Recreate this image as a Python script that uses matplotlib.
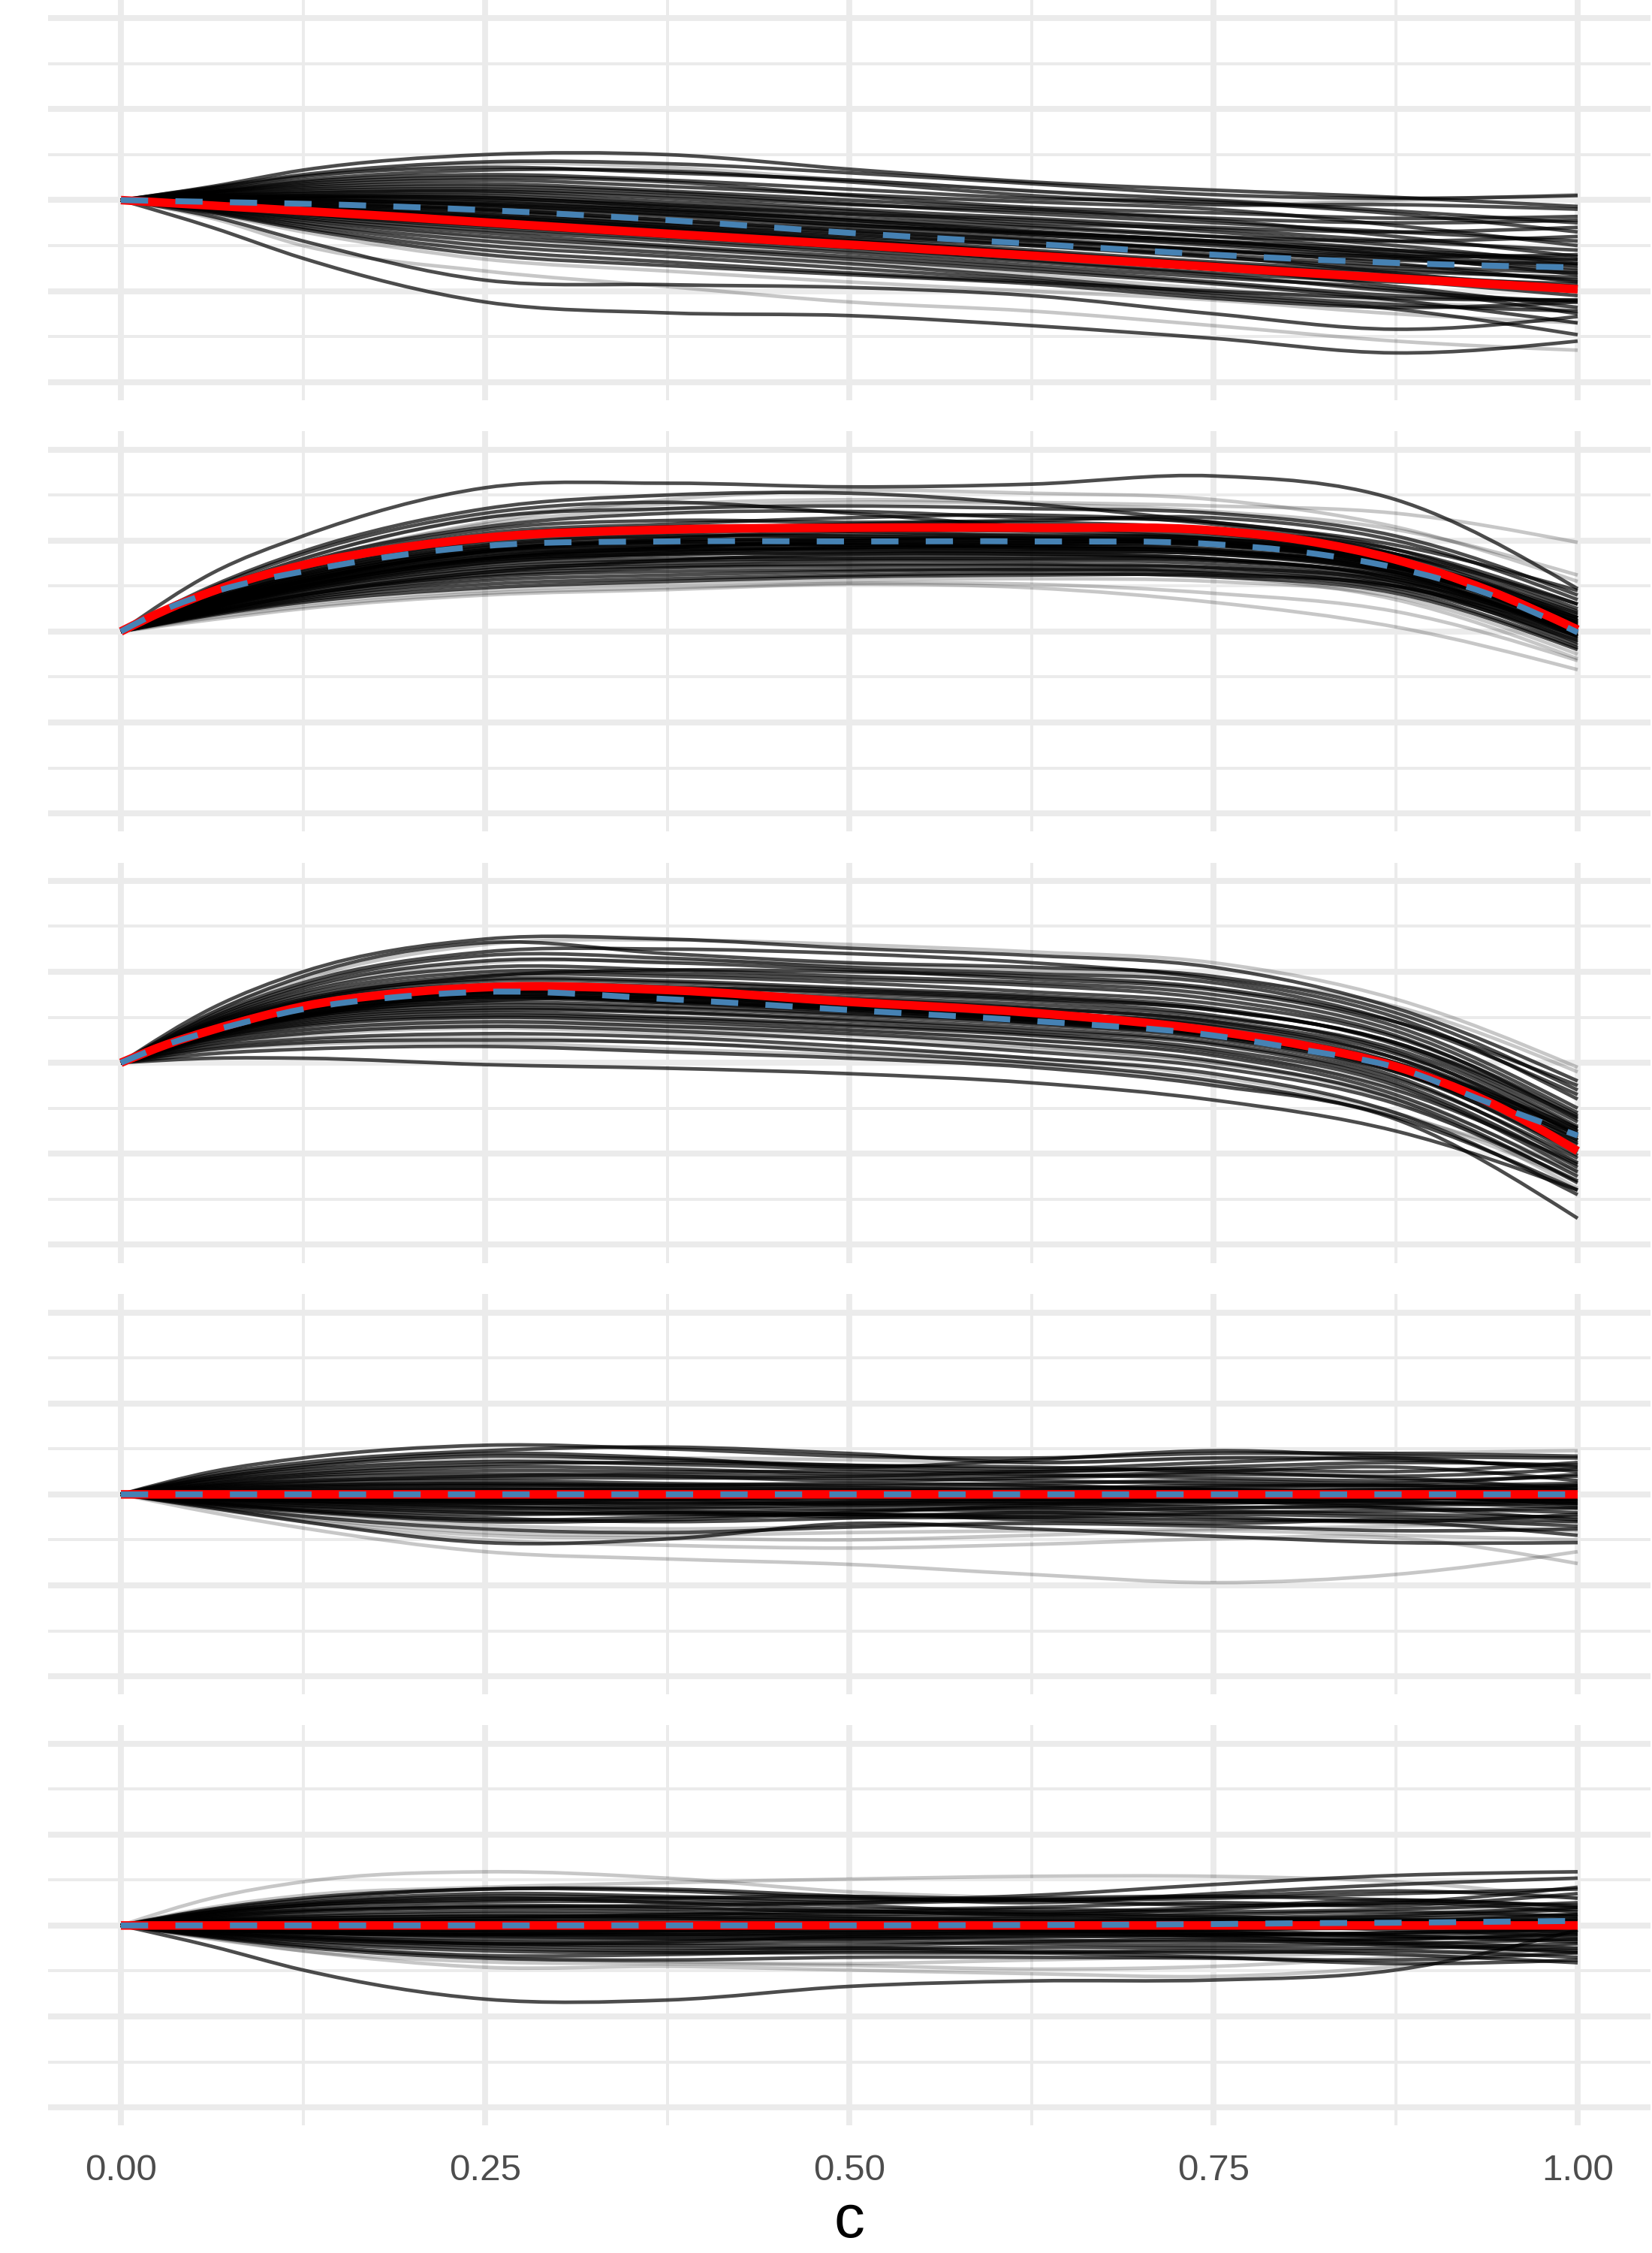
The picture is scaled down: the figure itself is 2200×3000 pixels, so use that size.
import matplotlib
matplotlib.use("Agg")
import matplotlib.pyplot as plt
from matplotlib.ticker import FixedLocator, NullFormatter
from matplotlib.path import Path
from matplotlib.patches import PathPatch

plt.rcParams['font.family'] = ['Liberation Sans', 'DejaVu Sans']

# ---------------------------------------------------------------- data
# x positions at which every simulated curve was read off the picture
X_GRID = [0.0, 0.0625, 0.125, 0.25, 0.375, 0.5, 0.625, 0.75, 0.875, 1.0]
# every curve starts at the same value at c = 0
START_VALUE = 0.0
# x positions at which the two summary curves (red, blue) were read
X_SUMMARY = [0.0, 0.03125, 0.0625, 0.09375, 0.125, 0.1875, 0.25, 0.375, 0.5,
             0.625, 0.75, 0.8125, 0.875, 0.9375, 1.0]

X_TICKS = [0.0, 0.25, 0.5, 0.75, 1.0]
X_TICK_LABELS = ["0.00", "0.25", "0.50", "0.75", "1.00"]
X_LABEL = "c"

# ---- panel 1
P1_DRAWS = [
    [0.15, 0.33, 0.50, 0.50, 0.34, 0.20, 0.11, 0.03, -0.07],
    [0.14, 0.28, 0.42, 0.40, 0.30, 0.18, 0.06, 0.02, 0.05],
    [0.12, 0.25, 0.40, 0.36, 0.22, 0.10, -0.05, 0.00, 0.06],
    [0.13, 0.26, 0.36, 0.30, 0.22, 0.10, 0.00, -0.12, -0.25],
    [0.11, 0.22, 0.33, 0.32, 0.20, 0.05, -0.05, -0.05, -0.10],
    [0.10, 0.20, 0.28, 0.22, 0.12, 0.02, -0.02, -0.15, -0.35],
    [0.09, 0.18, 0.25, 0.20, 0.05, -0.08, -0.14, -0.20, -0.18],
    [0.09, 0.16, 0.22, 0.15, 0.06, -0.02, -0.10, -0.28, -0.50],
    [0.08, 0.14, 0.18, 0.10, 0.00, -0.10, -0.20, -0.25, -0.22],
    [0.07, 0.12, 0.15, 0.08, -0.04, -0.15, -0.25, -0.35, -0.45],
    [0.06, 0.10, 0.12, 0.05, -0.05, -0.12, -0.22, -0.40, -0.62],
    [0.05, 0.08, 0.10, 0.02, -0.10, -0.20, -0.30, -0.35, -0.30],
    [0.05, 0.07, 0.08, -0.02, -0.12, -0.25, -0.32, -0.45, -0.55],
    [0.04, 0.05, 0.05, -0.05, -0.15, -0.22, -0.35, -0.50, -0.70],
    [0.03, 0.04, 0.03, -0.08, -0.20, -0.30, -0.40, -0.45, -0.40],
    [0.03, 0.03, 0.00, -0.10, -0.22, -0.35, -0.45, -0.55, -0.65],
    [0.02, 0.02, -0.02, -0.12, -0.25, -0.38, -0.48, -0.62, -0.82],
    [0.01, 0.00, -0.05, -0.15, -0.28, -0.36, -0.45, -0.60, -0.75],
    [0.00, -0.02, -0.08, -0.18, -0.30, -0.42, -0.55, -0.62, -0.60],
    [0.00, -0.03, -0.10, -0.22, -0.34, -0.45, -0.55, -0.70, -0.90],
    [-0.01, -0.05, -0.12, -0.25, -0.36, -0.48, -0.60, -0.72, -0.80],
    [-0.02, -0.06, -0.15, -0.28, -0.40, -0.50, -0.62, -0.80, -1.00],
    [-0.03, -0.08, -0.18, -0.30, -0.42, -0.55, -0.68, -0.78, -0.85],
    [-0.04, -0.10, -0.20, -0.32, -0.45, -0.58, -0.72, -0.88, -1.05],
    [-0.05, -0.12, -0.22, -0.35, -0.48, -0.60, -0.74, -0.85, -0.92],
    [-0.05, -0.13, -0.25, -0.38, -0.50, -0.62, -0.75, -0.95, -1.18],
    [-0.06, -0.15, -0.28, -0.40, -0.52, -0.66, -0.80, -0.90, -0.95],
    [-0.07, -0.16, -0.30, -0.42, -0.55, -0.68, -0.82, -1.00, -1.12],
    [-0.08, -0.18, -0.33, -0.45, -0.58, -0.72, -0.85, -0.98, -1.25],
    [-0.09, -0.20, -0.36, -0.50, -0.62, -0.75, -0.90, -1.05, -1.10],
    [-0.10, -0.22, -0.40, -0.52, -0.65, -0.78, -0.92, -1.10, -1.35],
    [-0.10, -0.22, -0.42, -0.55, -0.68, -0.82, -0.98, -1.12, -1.20],
    [-0.11, -0.25, -0.45, -0.58, -0.70, -0.85, -1.02, -1.15, -1.22],
    [-0.12, -0.27, -0.50, -0.62, -0.75, -0.88, -1.05, -1.20, -1.48],
    [-0.13, -0.30, -0.55, -0.68, -0.80, -0.90, -1.00, -1.08, -1.10],
    [-0.14, -0.32, -0.60, -0.72, -0.82, -0.92, -1.08, -1.18, -1.12],
    [-0.18, -0.45, -0.88, -0.93, -0.96, -1.05, -1.25, -1.42, -1.28],
    [-0.20, -0.50, -0.78, -0.95, -1.12, -1.22, -1.38, -1.55, -1.65],
    [-0.30, -0.64, -1.12, -1.24, -1.27, -1.38, -1.52, -1.68, -1.55],
    [-0.15, -0.35, -0.65, -0.78, -0.90, -1.00, -1.10, -1.25, -1.35],
    [0.02, 0.01, -0.06, -0.16, -0.27, -0.38, -0.50, -0.64, -0.78],
    [-0.01, -0.04, -0.11, -0.22, -0.33, -0.44, -0.56, -0.66, -0.70],
    [0.03, 0.04, 0.02, -0.06, -0.16, -0.28, -0.40, -0.55, -0.72],
    [-0.03, -0.07, -0.16, -0.27, -0.38, -0.50, -0.63, -0.75, -0.88],
    [0.01, -0.01, -0.04, -0.12, -0.22, -0.34, -0.46, -0.58, -0.66],
    [-0.04, -0.09, -0.19, -0.31, -0.44, -0.57, -0.70, -0.82, -0.95],
]
P1_FAINT = [2, 31, 37, 39]
P1_RED = [0.0, -0.03, -0.06, -0.09, -0.12, -0.18, -0.245, -0.37, -0.49,
          -0.61, -0.735, -0.80, -0.86, -0.92, -0.98]
P1_BLUE = [0.0, -0.01, -0.02, -0.03, -0.04, -0.07, -0.11, -0.22, -0.36,
           -0.48, -0.60, -0.65, -0.69, -0.72, -0.74]

# ---- panel 2
P2_DRAWS = [
    [0.64, 1.05, 1.58, 1.63, 1.59, 1.62, 1.71, 1.45, 0.47],
    [0.45, 0.80, 1.25, 1.40, 1.45, 1.42, 1.38, 1.30, 0.98],
    [0.50, 0.88, 1.35, 1.50, 1.52, 1.40, 1.20, 0.95, 0.45],
    [0.48, 0.85, 1.30, 1.42, 1.30, 1.15, 1.05, 0.85, 0.30],
    [0.42, 0.75, 1.20, 1.45, 1.55, 1.52, 1.45, 1.15, 0.55],
    [0.45, 0.80, 1.25, 1.35, 1.38, 1.35, 1.30, 1.05, 0.40],
    [0.42, 0.76, 1.15, 1.30, 1.32, 1.25, 1.20, 0.90, 0.25],
    [0.40, 0.72, 1.12, 1.22, 1.20, 1.22, 1.25, 1.00, 0.35],
    [0.40, 0.70, 1.08, 1.18, 1.25, 1.28, 1.18, 0.85, 0.15],
    [0.38, 0.68, 1.05, 1.15, 1.15, 1.12, 1.10, 0.90, 0.30],
    [0.37, 0.66, 1.02, 1.12, 1.10, 1.05, 1.02, 0.80, 0.10],
    [0.36, 0.63, 0.98, 1.08, 1.12, 1.15, 1.08, 0.78, 0.05],
    [0.35, 0.62, 0.95, 1.05, 1.05, 1.02, 0.98, 0.75, 0.12],
    [0.34, 0.60, 0.92, 1.00, 1.02, 1.00, 0.95, 0.70, 0.00],
    [0.33, 0.58, 0.90, 0.98, 0.98, 0.98, 0.98, 0.78, 0.20],
    [0.32, 0.56, 0.88, 0.96, 0.95, 0.92, 0.88, 0.65, -0.05],
    [0.31, 0.55, 0.85, 0.93, 0.96, 0.95, 0.90, 0.68, 0.08],
    [0.30, 0.53, 0.82, 0.90, 0.90, 0.88, 0.85, 0.62, -0.02],
    [0.29, 0.52, 0.80, 0.88, 0.92, 0.92, 0.88, 0.70, 0.15],
    [0.28, 0.50, 0.78, 0.85, 0.86, 0.85, 0.80, 0.58, -0.08],
    [0.27, 0.48, 0.76, 0.84, 0.88, 0.88, 0.85, 0.65, 0.10],
    [0.26, 0.46, 0.73, 0.80, 0.82, 0.82, 0.78, 0.55, -0.12],
    [0.25, 0.45, 0.70, 0.78, 0.80, 0.80, 0.78, 0.60, 0.05],
    [0.24, 0.43, 0.68, 0.75, 0.78, 0.78, 0.74, 0.52, -0.15],
    [0.23, 0.41, 0.65, 0.72, 0.74, 0.74, 0.70, 0.50, -0.05],
    [0.22, 0.40, 0.62, 0.70, 0.72, 0.72, 0.70, 0.55, 0.02],
    [0.21, 0.38, 0.60, 0.66, 0.68, 0.68, 0.64, 0.45, -0.18],
    [0.20, 0.36, 0.56, 0.62, 0.66, 0.68, 0.66, 0.48, -0.10],
    [0.19, 0.34, 0.52, 0.58, 0.62, 0.64, 0.60, 0.42, -0.20],
    [0.18, 0.32, 0.48, 0.55, 0.60, 0.62, 0.62, 0.50, 0.00],
    [0.17, 0.30, 0.45, 0.52, 0.56, 0.58, 0.55, 0.38, -0.25],
    [0.15, 0.27, 0.42, 0.48, 0.53, 0.52, 0.42, 0.22, -0.32],
    [0.13, 0.25, 0.40, 0.46, 0.52, 0.48, 0.32, 0.05, -0.42],
    [0.35, 0.64, 1.00, 1.12, 1.18, 1.20, 1.12, 0.85, 0.22],
    [0.30, 0.55, 0.88, 1.02, 1.10, 1.10, 1.02, 0.78, 0.18],
    [0.26, 0.47, 0.75, 0.86, 0.92, 0.95, 0.95, 0.72, 0.12],
    [0.40, 0.74, 1.18, 1.35, 1.42, 1.40, 1.32, 1.12, 0.62],
    [0.22, 0.40, 0.65, 0.78, 0.85, 0.85, 0.80, 0.58, -0.02],
    [0.20, 0.36, 0.58, 0.70, 0.78, 0.75, 0.62, 0.35, -0.30],
    [0.28, 0.50, 0.80, 0.92, 1.00, 1.02, 0.98, 0.75, 0.15],
    [0.30, 0.54, 0.86, 0.94, 0.97, 0.97, 0.94, 0.70, 0.02],
    [0.33, 0.58, 0.90, 1.00, 1.02, 1.03, 0.99, 0.74, 0.06],
    [0.28, 0.51, 0.82, 0.92, 0.95, 0.94, 0.90, 0.66, -0.04],
    [0.31, 0.56, 0.88, 0.98, 1.00, 0.99, 0.96, 0.72, 0.00],
    [0.27, 0.49, 0.79, 0.89, 0.92, 0.91, 0.87, 0.63, -0.06],
    [0.34, 0.60, 0.94, 1.04, 1.06, 1.06, 1.02, 0.77, 0.08],
]
P2_FAINT = [1, 4, 30, 31, 32, 36, 38]
P2_RED = [0.0, 0.24, 0.44, 0.60, 0.73, 0.91, 1.03, 1.12, 1.14,
          1.14, 1.11, 1.00, 0.79, 0.46, 0.02]
P2_BLUE = [0.0, 0.25, 0.43, 0.56, 0.66, 0.83, 0.94, 0.99, 0.99,
           0.99, 0.96, 0.87, 0.70, 0.42, -0.01]

# ---- panel 3
P3_DRAWS = [
    [0.60, 1.00, 1.36, 1.36, 1.26, 1.18, 1.05, 0.60, -0.20],
    [0.55, 0.92, 1.30, 1.35, 1.30, 1.22, 1.10, 0.70, -0.05],
    [0.55, 0.95, 1.32, 1.20, 1.10, 1.05, 0.95, 0.55, -0.30],
    [0.52, 0.88, 1.22, 1.25, 1.20, 1.10, 0.92, 0.50, -0.40],
    [0.50, 0.85, 1.18, 1.15, 1.05, 0.98, 0.88, 0.45, -0.35],
    [0.48, 0.82, 1.12, 1.10, 1.02, 0.92, 0.80, 0.40, -0.50],
    [0.48, 0.80, 1.10, 1.12, 1.08, 1.02, 0.92, 0.62, -0.10],
    [0.46, 0.78, 1.05, 1.02, 0.95, 0.88, 0.75, 0.35, -0.55],
    [0.45, 0.75, 1.00, 0.98, 0.92, 0.85, 0.70, 0.30, -0.62],
    [0.44, 0.72, 0.96, 0.95, 0.88, 0.78, 0.65, 0.28, -0.58],
    [0.43, 0.70, 0.92, 0.90, 0.82, 0.74, 0.60, 0.20, -0.70],
    [0.42, 0.68, 0.90, 0.88, 0.80, 0.72, 0.58, 0.22, -0.65],
    [0.40, 0.66, 0.86, 0.84, 0.76, 0.68, 0.52, 0.12, -0.80],
    [0.39, 0.64, 0.84, 0.80, 0.72, 0.64, 0.50, 0.15, -0.72],
    [0.38, 0.62, 0.80, 0.76, 0.70, 0.60, 0.45, 0.05, -0.85],
    [0.37, 0.60, 0.78, 0.75, 0.66, 0.56, 0.40, 0.00, -0.90],
    [0.36, 0.58, 0.75, 0.72, 0.64, 0.55, 0.42, 0.05, -0.78],
    [0.35, 0.56, 0.72, 0.68, 0.60, 0.50, 0.35, -0.05, -0.95],
    [0.34, 0.54, 0.70, 0.66, 0.58, 0.48, 0.32, -0.08, -1.02],
    [0.33, 0.52, 0.66, 0.62, 0.54, 0.45, 0.30, -0.10, -0.98],
    [0.32, 0.50, 0.63, 0.60, 0.52, 0.42, 0.26, -0.15, -1.10],
    [0.30, 0.48, 0.60, 0.56, 0.48, 0.38, 0.22, -0.18, -1.05],
    [0.29, 0.46, 0.58, 0.55, 0.46, 0.35, 0.20, -0.22, -1.15],
    [0.28, 0.44, 0.55, 0.50, 0.42, 0.32, 0.15, -0.25, -1.20],
    [0.27, 0.42, 0.52, 0.48, 0.40, 0.30, 0.12, -0.30, -1.12],
    [0.26, 0.40, 0.50, 0.45, 0.36, 0.25, 0.08, -0.35, -1.25],
    [0.25, 0.38, 0.48, 0.42, 0.35, 0.25, 0.10, -0.28, -1.10],
    [0.24, 0.36, 0.45, 0.40, 0.32, 0.20, 0.02, -0.40, -1.32],
    [0.22, 0.34, 0.42, 0.38, 0.30, 0.18, 0.00, -0.38, -1.22],
    [0.21, 0.32, 0.40, 0.35, 0.25, 0.12, -0.05, -0.45, -1.30],
    [0.20, 0.30, 0.38, 0.32, 0.25, 0.15, 0.00, -0.42, -1.38],
    [0.18, 0.26, 0.32, 0.28, 0.18, 0.05, -0.12, -0.55, -1.45],
    [0.16, 0.24, 0.28, 0.22, 0.15, 0.05, -0.15, -0.55, -1.30],
    [0.15, 0.22, 0.25, 0.22, 0.12, 0.00, -0.20, -0.60, -1.40],
    [0.14, 0.20, 0.22, 0.15, 0.08, -0.02, -0.22, -0.58, -1.18],
    [0.10, 0.15, 0.18, 0.12, 0.05, -0.05, -0.25, -0.62, -1.71],
    [0.05, 0.05, -0.02, -0.06, -0.12, -0.22, -0.41, -0.75, -1.40],
    [0.40, 0.68, 0.95, 1.02, 1.00, 0.95, 0.82, 0.45, -0.25],
    [0.35, 0.58, 0.78, 0.82, 0.78, 0.70, 0.58, 0.22, -0.60],
    [0.30, 0.50, 0.68, 0.72, 0.68, 0.60, 0.46, 0.10, -0.75],
    [0.33, 0.53, 0.76, 0.70, 0.60, 0.48, 0.32, -0.05, -0.82],
    [0.35, 0.57, 0.80, 0.74, 0.62, 0.50, 0.34, -0.02, -0.76],
    [0.31, 0.51, 0.72, 0.66, 0.56, 0.44, 0.28, -0.10, -0.88],
    [0.36, 0.59, 0.83, 0.78, 0.66, 0.52, 0.36, 0.00, -0.72],
    [0.32, 0.52, 0.74, 0.68, 0.58, 0.46, 0.30, -0.07, -0.85],
    [0.34, 0.55, 0.78, 0.72, 0.61, 0.47, 0.31, -0.04, -0.79],
]
P3_FAINT = [1, 6, 26, 28, 30, 32, 34]
P3_RED = [0.0, 0.20, 0.36, 0.50, 0.62, 0.76, 0.83, 0.80, 0.67,
          0.55, 0.35, 0.19, -0.04, -0.42, -0.97]
P3_BLUE = [0.0, 0.20, 0.35, 0.48, 0.59, 0.72, 0.78, 0.70, 0.58,
           0.46, 0.30, 0.14, -0.05, -0.43, -0.80]

# ---- panel 4
P4_DRAWS = [
    [0.25, 0.40, 0.54, 0.50, 0.42, 0.40, 0.45, 0.45, 0.42],
    [0.22, 0.35, 0.48, 0.52, 0.45, 0.35, 0.40, 0.38, 0.30],
    [0.20, 0.32, 0.45, 0.40, 0.30, 0.38, 0.48, 0.42, 0.40],
    [0.18, 0.28, 0.38, 0.40, 0.38, 0.35, 0.40, 0.45, 0.48],
    [0.17, 0.27, 0.36, 0.33, 0.28, 0.25, 0.30, 0.35, 0.32],
    [0.15, 0.24, 0.33, 0.35, 0.32, 0.30, 0.25, 0.20, 0.28],
    [0.14, 0.22, 0.30, 0.28, 0.22, 0.20, 0.25, 0.30, 0.15],
    [0.12, 0.20, 0.26, 0.25, 0.25, 0.22, 0.18, 0.15, 0.20],
    [0.11, 0.18, 0.22, 0.20, 0.15, 0.18, 0.22, 0.18, 0.05],
    [0.10, 0.15, 0.18, 0.18, 0.18, 0.15, 0.12, 0.10, 0.12],
    [0.08, 0.12, 0.15, 0.12, 0.10, 0.12, 0.15, 0.12, 0.22],
    [0.07, 0.10, 0.12, 0.10, 0.08, 0.05, 0.08, 0.10, 0.02],
    [0.05, 0.08, 0.10, 0.10, 0.12, 0.10, 0.05, 0.00, -0.05],
    [0.04, 0.06, 0.07, 0.05, 0.04, 0.06, 0.10, 0.08, 0.10],
    [0.03, 0.04, 0.05, 0.06, 0.05, 0.02, 0.00, 0.04, 0.08],
    [0.02, 0.02, 0.02, 0.00, -0.02, 0.00, 0.04, 0.02, -0.08],
    [0.01, 0.01, 0.00, 0.02, 0.03, 0.00, -0.05, -0.05, 0.00],
    [0.00, -0.01, -0.02, -0.04, -0.03, -0.02, 0.00, 0.02, 0.05],
    [-0.01, -0.02, -0.04, -0.05, -0.06, -0.08, -0.05, -0.02, -0.12],
    [-0.02, -0.04, -0.06, -0.05, -0.04, -0.06, -0.08, -0.10, -0.05],
    [-0.03, -0.05, -0.08, -0.10, -0.10, -0.06, -0.04, -0.08, -0.15],
    [-0.04, -0.07, -0.10, -0.08, -0.12, -0.14, -0.10, -0.06, -0.02],
    [-0.05, -0.08, -0.12, -0.14, -0.12, -0.10, -0.14, -0.15, -0.20],
    [-0.06, -0.10, -0.15, -0.15, -0.16, -0.18, -0.15, -0.12, -0.10],
    [-0.07, -0.12, -0.18, -0.20, -0.18, -0.15, -0.18, -0.22, -0.25],
    [-0.08, -0.13, -0.20, -0.22, -0.22, -0.22, -0.20, -0.18, -0.15],
    [-0.09, -0.15, -0.22, -0.20, -0.25, -0.25, -0.22, -0.25, -0.30],
    [-0.10, -0.17, -0.26, -0.30, -0.26, -0.20, -0.25, -0.30, -0.22],
    [-0.11, -0.19, -0.30, -0.28, -0.22, -0.28, -0.32, -0.28, -0.35],
    [-0.12, -0.22, -0.34, -0.38, -0.35, -0.30, -0.28, -0.32, -0.40],
    [-0.13, -0.24, -0.38, -0.42, -0.36, -0.32, -0.35, -0.40, -0.38],
    [-0.14, -0.26, -0.42, -0.45, -0.42, -0.40, -0.38, -0.35, -0.30],
    [-0.15, -0.30, -0.53, -0.49, -0.32, -0.38, -0.46, -0.53, -0.53],
    [-0.16, -0.30, -0.50, -0.56, -0.59, -0.55, -0.49, -0.48, -0.76],
    [-0.20, -0.37, -0.63, -0.71, -0.77, -0.88, -0.97, -0.88, -0.63],
    [-0.15, -0.28, -0.45, -0.48, -0.50, -0.45, -0.40, -0.45, -0.50],
    [0.18, 0.30, 0.42, 0.38, 0.32, 0.28, 0.35, 0.40, 0.25],
    [-0.10, -0.18, -0.28, -0.25, -0.20, -0.12, -0.08, -0.15, -0.28],
    [0.09, 0.14, 0.20, 0.22, 0.20, 0.25, 0.28, 0.25, 0.35],
    [-0.05, -0.09, -0.14, -0.18, -0.22, -0.25, -0.28, -0.30, -0.45],
    [0.03, 0.05, 0.06, 0.04, 0.02, 0.03, 0.05, 0.03, 0.04],
    [-0.02, -0.03, -0.05, -0.03, -0.01, -0.03, -0.02, -0.04, -0.06],
    [0.06, 0.09, 0.11, 0.08, 0.06, 0.08, 0.06, 0.05, 0.09],
    [-0.05, -0.07, -0.09, -0.11, -0.08, -0.05, -0.07, -0.09, -0.08],
    [0.01, 0.02, 0.03, 0.01, 0.00, -0.02, 0.02, 0.05, 0.02],
    [-0.03, -0.05, -0.07, -0.06, -0.09, -0.10, -0.06, -0.03, -0.10],
]
P4_FAINT = [3, 29, 31, 33, 34, 35]
P4_RED = [0.0, 0.0, 0.0, 0.0, 0.0, 0.0, 0.0, 0.0, 0.0,
          0.0, 0.0, 0.0, 0.0, 0.0, 0.0]
P4_BLUE = [0.0, 0.0, 0.0, 0.0, 0.0, 0.0, 0.0, 0.0, 0.0,
           0.0, 0.0, 0.0, 0.0, 0.0, 0.0]

# ---- panel 5
P5_DRAWS = [
    [0.30, 0.48, 0.59, 0.52, 0.37, 0.30, 0.25, 0.20, 0.15],
    [0.20, 0.33, 0.42, 0.47, 0.51, 0.54, 0.54, 0.48, 0.30],
    [0.15, 0.25, 0.35, 0.32, 0.28, 0.33, 0.45, 0.55, 0.59],
    [0.18, 0.30, 0.40, 0.40, 0.32, 0.25, 0.35, 0.45, 0.52],
    [0.17, 0.28, 0.40, 0.38, 0.30, 0.28, 0.30, 0.35, 0.40],
    [0.15, 0.24, 0.32, 0.30, 0.25, 0.28, 0.32, 0.38, 0.30],
    [0.13, 0.22, 0.30, 0.25, 0.18, 0.20, 0.25, 0.22, 0.35],
    [0.12, 0.20, 0.26, 0.26, 0.22, 0.15, 0.20, 0.28, 0.20],
    [0.11, 0.17, 0.22, 0.20, 0.15, 0.18, 0.15, 0.18, 0.25],
    [0.09, 0.15, 0.20, 0.18, 0.16, 0.12, 0.18, 0.25, 0.15],
    [0.08, 0.12, 0.16, 0.15, 0.10, 0.10, 0.12, 0.15, 0.10],
    [0.07, 0.10, 0.13, 0.12, 0.12, 0.14, 0.10, 0.05, 0.12],
    [0.06, 0.08, 0.10, 0.08, 0.05, 0.06, 0.08, 0.12, 0.20],
    [0.05, 0.06, 0.07, 0.08, 0.08, 0.05, 0.02, 0.05, 0.05],
    [0.04, 0.05, 0.05, 0.03, 0.02, 0.04, 0.06, 0.02, -0.02],
    [0.02, 0.03, 0.02, 0.02, 0.04, 0.02, -0.02, 0.00, 0.08],
    [0.01, 0.01, 0.00, -0.02, -0.02, 0.00, 0.03, 0.06, 0.00],
    [0.00, -0.01, -0.02, -0.01, 0.00, -0.04, -0.05, -0.02, -0.08],
    [-0.01, -0.02, -0.04, -0.05, -0.05, -0.03, 0.00, -0.05, -0.12],
    [-0.02, -0.04, -0.06, -0.06, -0.08, -0.08, -0.06, -0.10, -0.05],
    [-0.03, -0.05, -0.08, -0.10, -0.08, -0.05, -0.08, -0.12, -0.18],
    [-0.04, -0.07, -0.10, -0.10, -0.12, -0.12, -0.10, -0.08, -0.02],
    [-0.05, -0.08, -0.12, -0.14, -0.15, -0.12, -0.14, -0.18, -0.25],
    [-0.06, -0.10, -0.15, -0.16, -0.14, -0.16, -0.18, -0.15, -0.10],
    [-0.07, -0.12, -0.18, -0.20, -0.18, -0.20, -0.22, -0.20, -0.15],
    [-0.08, -0.13, -0.20, -0.22, -0.22, -0.18, -0.16, -0.22, -0.28],
    [-0.09, -0.15, -0.22, -0.25, -0.25, -0.24, -0.25, -0.25, -0.20],
    [-0.10, -0.17, -0.25, -0.28, -0.25, -0.28, -0.30, -0.28, -0.35],
    [-0.11, -0.19, -0.28, -0.30, -0.30, -0.30, -0.28, -0.32, -0.41],
    [-0.12, -0.22, -0.35, -0.40, -0.42, -0.38, -0.34, -0.30, -0.25],
    [-0.13, -0.24, -0.36, -0.38, -0.35, -0.35, -0.36, -0.38, -0.30],
    [-0.14, -0.28, -0.46, -0.45, -0.49, -0.53, -0.56, -0.45, -0.20],
    [-0.23, -0.49, -0.81, -0.82, -0.67, -0.61, -0.60, -0.49, -0.05],
    [-0.12, -0.22, -0.33, -0.32, -0.28, -0.30, -0.35, -0.42, -0.38],
    [-0.15, -0.28, -0.40, -0.42, -0.44, -0.48, -0.45, -0.35, -0.25],
    [0.14, 0.22, 0.28, 0.30, 0.32, 0.28, 0.22, 0.25, 0.42],
    [-0.08, -0.14, -0.20, -0.18, -0.12, -0.08, -0.12, -0.20, -0.30],
    [0.10, 0.16, 0.20, 0.22, 0.25, 0.30, 0.32, 0.28, 0.22],
    [0.03, 0.05, 0.08, 0.12, 0.15, 0.12, 0.08, 0.10, 0.18],
    [-0.05, -0.08, -0.10, -0.06, -0.02, -0.05, -0.10, -0.15, -0.08],
    [0.02, 0.04, 0.05, 0.05, 0.03, 0.02, 0.04, 0.06, 0.07],
    [-0.02, -0.03, -0.05, -0.04, -0.03, -0.05, -0.04, -0.03, -0.01],
    [0.05, 0.08, 0.10, 0.10, 0.07, 0.08, 0.06, 0.08, 0.12],
    [-0.05, -0.08, -0.11, -0.12, -0.10, -0.09, -0.11, -0.08, -0.04],
    [0.01, 0.02, 0.03, 0.00, -0.02, 0.01, 0.03, 0.02, 0.05],
    [-0.03, -0.06, -0.08, -0.08, -0.06, -0.06, -0.08, -0.12, -0.15],
]
P5_FAINT = [0, 1, 29, 31, 34]
P5_RED = [0.0, 0.0, 0.0, 0.0, 0.0, 0.0, 0.0, 0.0, 0.0,
          0.0, 0.0, 0.0, 0.0, 0.0, 0.0]
P5_BLUE = [0.0, 0.0, 0.0, 0.0, 0.0, 0.0, 0.0, 0.0, 0.0,
           0.005, 0.015, 0.025, 0.03, 0.04, 0.05]

PANELS = [
    (P1_DRAWS, P1_FAINT, P1_RED, P1_BLUE),
    (P2_DRAWS, P2_FAINT, P2_RED, P2_BLUE),
    (P3_DRAWS, P3_FAINT, P3_RED, P3_BLUE),
    (P4_DRAWS, P4_FAINT, P4_RED, P4_BLUE),
    (P5_DRAWS, P5_FAINT, P5_RED, P5_BLUE),
]


# ------------------------------------------------ smooth line rendering
def smooth_path(xs, ys):
    """Cubic Bezier path passing through every read point (x, y)."""
    n = len(xs)
    h = [xs[i + 1] - xs[i] for i in range(n - 1)]
    d = [(ys[i + 1] - ys[i]) / h[i] for i in range(n - 1)]
    m = [0.0] * n
    for i in range(1, n - 1):
        m[i] = (d[i - 1] * h[i] + d[i] * h[i - 1]) / (h[i - 1] + h[i])
    m[0] = 1.5 * d[0] - 0.5 * m[1]
    m[-1] = 1.5 * d[-1] - 0.5 * m[-2]
    verts = [(xs[0], ys[0])]
    codes = [Path.MOVETO]
    for i in range(n - 1):
        verts.append((xs[i] + h[i] / 3, ys[i] + m[i] * h[i] / 3))
        verts.append((xs[i + 1] - h[i] / 3, ys[i + 1] - m[i + 1] * h[i] / 3))
        verts.append((xs[i + 1], ys[i + 1]))
        codes += [Path.CURVE4] * 3
    return Path(verts, codes)


def draw_line(ax, xs, ys, **kw):
    ax.add_patch(PathPatch(smooth_path(xs, ys), fill=False, **kw))


# ---------------------------------------------------------------- layout
W_PX, H_PX, DPI = 2200, 3000, 400
fig = plt.figure(figsize=(W_PX / DPI, H_PX / DPI), dpi=DPI)
fig.patch.set_facecolor("white")

PANEL_TOPS_PX = [0.0, 574.4, 1148.7, 1723.4, 2297.4]
PANEL_H_PX = 532.9
LEFT_PX, RIGHT_PX = 64.0, 2198.0
GRID_COLOR = "#EBEBEB"

for i, (draws, faint, red, blue) in enumerate(PANELS):
    top = PANEL_TOPS_PX[i]
    ax = fig.add_axes([LEFT_PX / W_PX, 1 - (top + PANEL_H_PX) / H_PX,
                       (RIGHT_PX - LEFT_PX) / W_PX, PANEL_H_PX / H_PX])
    ax.set_facecolor("white")
    ax.set_xlim(-0.05, 1.05)
    ax.set_ylim(-2.2, 2.2)
    ax.xaxis.set_major_locator(FixedLocator(X_TICKS))
    ax.xaxis.set_minor_locator(FixedLocator([0.125, 0.375, 0.625, 0.875]))
    ax.yaxis.set_major_locator(FixedLocator([-2, -1, 0, 1, 2]))
    ax.yaxis.set_minor_locator(FixedLocator([-1.5, -0.5, 0.5, 1.5]))
    ax.grid(which="major", color=GRID_COLOR, linewidth=1.42)
    ax.grid(which="minor", color=GRID_COLOR, linewidth=0.71)
    ax.set_axisbelow(True)
    for s in ax.spines.values():
        s.set_visible(False)
    ax.tick_params(which="both", length=0)
    ax.yaxis.set_major_formatter(NullFormatter())
    ax.yaxis.set_minor_formatter(NullFormatter())
    ax.xaxis.set_minor_formatter(NullFormatter())

    for j, vals in enumerate(draws):
        ys = [START_VALUE] + list(vals)
        draw_line(ax, X_GRID, ys, edgecolor="black",
                  alpha=0.22 if j in faint else 0.7,
                  linewidth=0.85, joinstyle="round", capstyle="butt",
                  zorder=2)
    draw_line(ax, X_SUMMARY, red, edgecolor="#FF0000", linewidth=2.05,
              joinstyle="round", capstyle="butt", zorder=3)
    draw_line(ax, X_SUMMARY, blue, edgecolor="#4682B4", linewidth=1.42,
              linestyle=(0, (4.6, 4.6)), capstyle="butt", zorder=4)

    if i < len(PANELS) - 1:
        ax.xaxis.set_major_formatter(NullFormatter())
    else:
        ax.set_xticklabels(X_TICK_LABELS)
        ax.tick_params(axis="x", which="major", labelsize=8.9,
                       labelcolor="#4D4D4D", pad=6.8)
        ax.set_xlabel(X_LABEL, fontsize=14.7, color="black", labelpad=1.2)

fig.savefig("out.png", dpi=DPI, facecolor="white")
